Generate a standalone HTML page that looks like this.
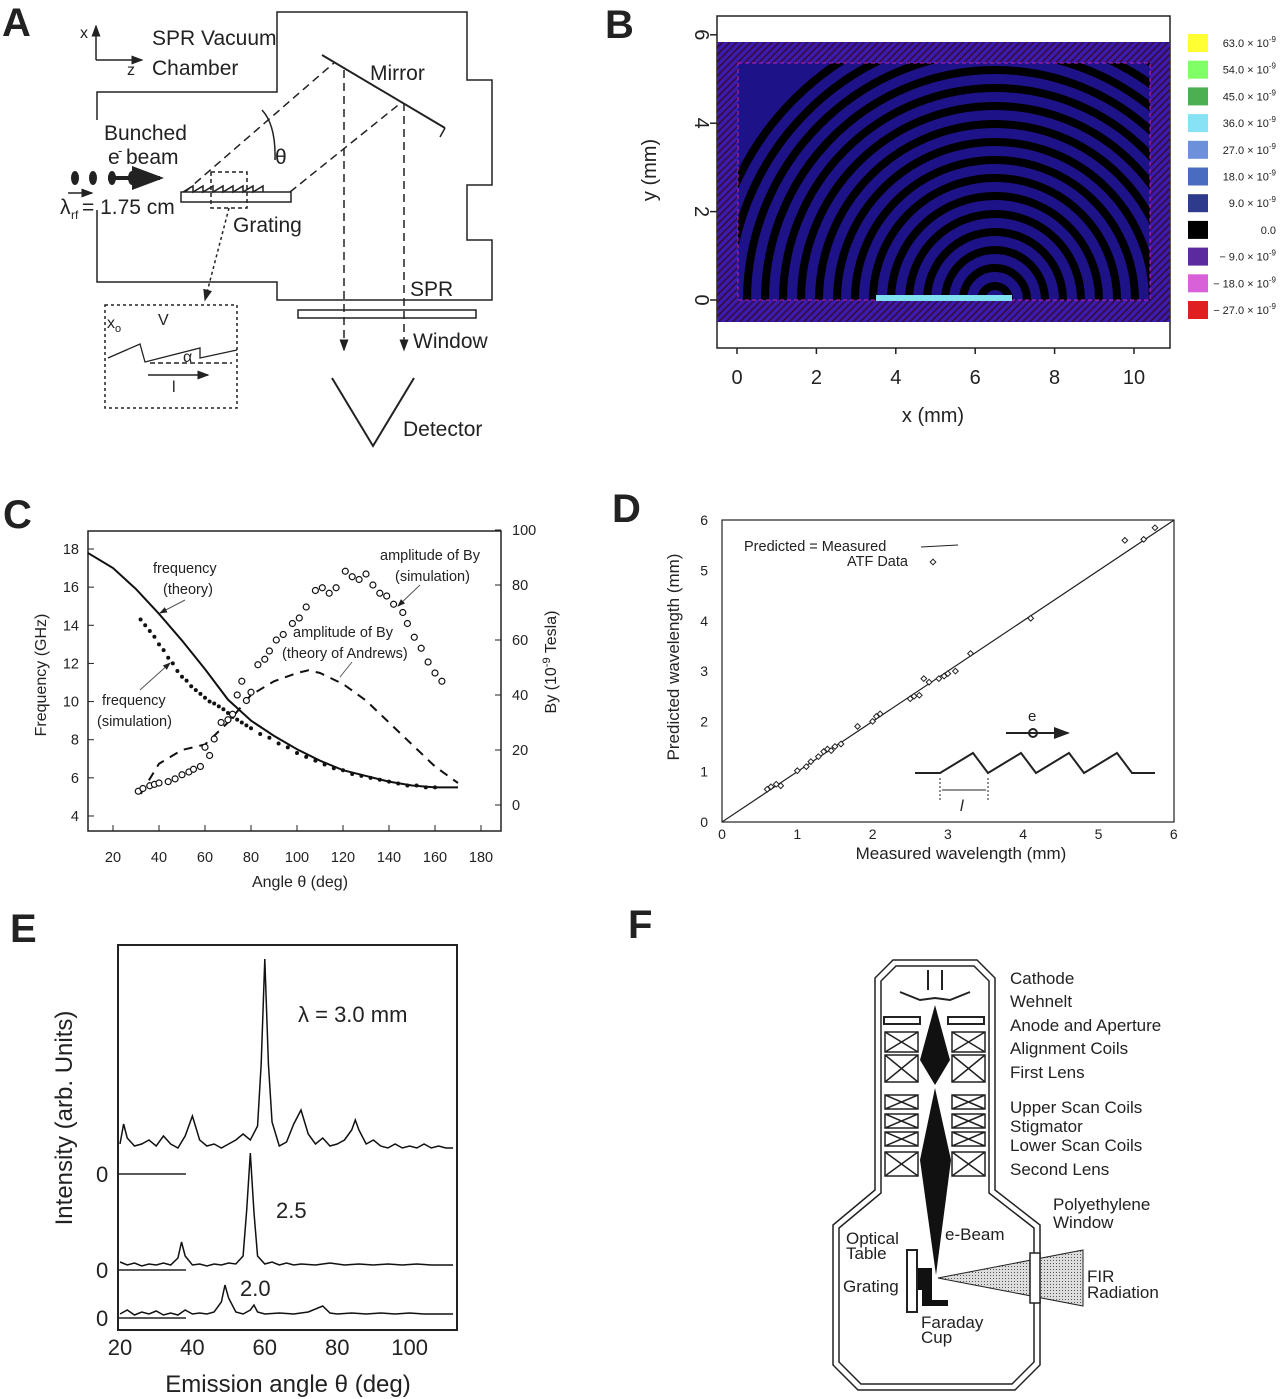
<!DOCTYPE html>
<html><head><meta charset="utf-8"><style>
body{margin:0;background:#fff}
svg{display:block}
text{font-family:"Liberation Sans",sans-serif;fill:#222}
</style></head><body>
<svg id="root" width="1280" height="1399" viewBox="0 0 1280 1399" xmlns="http://www.w3.org/2000/svg">
<defs>
<marker id="ah" markerWidth="8" markerHeight="8" refX="7" refY="4" orient="auto"><path d="M0,1 L8,4 L0,7 Z" fill="#222"/></marker>
<pattern id="hatch" width="5" height="5" patternUnits="userSpaceOnUse" patternTransform="rotate(45)"><rect width="5" height="5" fill="#3a1cb0"/><rect width="1.6" height="5" fill="#3a0a3a"/></pattern>
<pattern id="dots" width="3" height="3" patternUnits="userSpaceOnUse"><rect width="3" height="3" fill="#ddd"/><rect width="1" height="1" fill="#555"/></pattern>
<clipPath id="bclip"><rect x="738" y="63" width="412" height="237"/></clipPath>
</defs>

<!-- PANEL A -->
<g>
<text x="2" y="36" font-size="40" font-weight="bold">A</text>
<g stroke="#222" stroke-width="1.5" fill="none">
<line x1="96" y1="60" x2="96" y2="26" marker-end="url(#ah)"/>
<line x1="96" y1="60" x2="142" y2="60" marker-end="url(#ah)"/>
<polyline points="97,120 97,92 277,92 277,12 467,12 467,80 492,80 492,185 467,185 467,240 492,240 492,300 467,300"/>
<polyline points="97,210 97,282 277,282 277,300 467,300"/>
<rect x="181" y="192" width="110" height="10"/>
<polyline points="183,192 193,186 193,192 203,186 203,192 213,186 213,192 223,186 223,192 233,186 233,192 243,186 243,192 253,186 253,192 263,186 263,192"/>
<line x1="322" y1="55" x2="445" y2="128" stroke-width="2"/>
<line x1="445" y1="128" x2="440" y2="137"/>
<g stroke-dasharray="8,5">
<line x1="185" y1="192" x2="335" y2="62"/>
<line x1="290" y1="192" x2="402" y2="102"/>
<line x1="344" y1="70" x2="344" y2="350" marker-end="url(#ah)"/>
<line x1="404" y1="103" x2="404" y2="350" marker-end="url(#ah)"/>
</g>
<path d="M262,110 Q276,125 275,160"/>
<rect x="298" y="310" width="178" height="8"/>
<polyline points="332,378 373,446 414,378" stroke-width="2"/>
<rect x="211" y="172" width="36" height="36" stroke-dasharray="4,3"/>
<path d="M229,208 L205,300" stroke-dasharray="3,3" marker-end="url(#ah)"/>
<rect x="105" y="305" width="132" height="103" stroke-dasharray="3,3"/>
<polyline points="108,358 140,344 145,362 200,348 200,358 237,350" stroke-width="1.3"/>
<line x1="150" y1="363" x2="232" y2="363" stroke-dasharray="5,3"/>
<line x1="148" y1="375" x2="208" y2="375" marker-end="url(#ah)"/>
<line x1="108" y1="178" x2="160" y2="178" stroke-width="4" marker-end="url(#ah)"/>
<line x1="68" y1="193" x2="92" y2="193" marker-end="url(#ah)"/>
</g>
<g fill="#222"><ellipse cx="75" cy="178" rx="4" ry="7"/><ellipse cx="93" cy="178" rx="4" ry="7"/><ellipse cx="112" cy="178" rx="4" ry="7"/><ellipse cx="132" cy="178" rx="4" ry="7"/></g>
<g font-size="21">
<text x="80" y="38" font-size="16">x</text><text x="127" y="75" font-size="16">z</text>
<text x="152" y="45">SPR Vacuum</text>
<text x="152" y="75">Chamber</text>
<text x="370" y="80">Mirror</text>
<text x="104" y="140">Bunched</text>
<text x="108" y="164">e</text><text x="118" y="155" font-size="13">-</text><text x="126" y="164">beam</text>
<text x="60" y="214">λ</text><text x="71" y="219" font-size="12">rf</text><text x="82" y="214">= 1.75 cm</text>
<text x="275" y="164">θ</text>
<text x="233" y="232">Grating</text>
<text x="410" y="296">SPR</text>
<text x="413" y="348">Window</text>
<text x="403" y="436">Detector</text>
<text x="107" y="328" font-size="16">x<tspan font-size="11" dy="4">o</tspan></text>
<text x="158" y="325" font-size="16">V</text>
<text x="183" y="362" font-size="16">α</text>
<text x="172" y="392" font-size="16" font-family="Liberation Serif">l</text>
</g>
</g>

<!-- PANEL B -->
<g>
<text x="605" y="38" font-size="40" font-weight="bold">B</text>
<rect x="717" y="16" width="453" height="332" fill="#fff" stroke="#222" stroke-width="1.5"/>
<rect x="717" y="42" width="453" height="280" fill="url(#hatch)"/>
<rect x="738" y="63" width="412" height="237" fill="#1e1288"/>
<g id="arcs" clip-path="url(#bclip)" fill="none" stroke="#000" stroke-width="8"></g>
<rect x="738" y="63" width="412" height="237" fill="none" stroke="#c020c0" stroke-dasharray="4,3"/>
<rect x="876" y="295" width="136" height="6" fill="#7fe0f0"/>
<g id="bticks" stroke="#222" stroke-width="1.5"></g>
<text x="933" y="422" font-size="20" text-anchor="middle">x (mm)</text>
<text transform="translate(656,170) rotate(-90)" font-size="20" text-anchor="middle">y (mm)</text>
<g id="cbar"></g>
</g>

<!-- PANEL C -->
<g>
<text x="3" y="528" font-size="40" font-weight="bold">C</text>
<rect x="88" y="531" width="413" height="300" fill="none" stroke="#222" stroke-width="1.5"/>
<g id="cplot"></g>
<text x="300" y="887" font-size="16" text-anchor="middle">Angle θ (deg)</text>
<text transform="translate(46,675) rotate(-90)" font-size="16" text-anchor="middle">Frequency (GHz)</text>
<text transform="translate(556,662) rotate(-90)" font-size="16" text-anchor="middle">By (10<tspan font-size="11" dy="-6">-9</tspan><tspan dy="6"> Tesla)</tspan></text>
<g font-size="14.5">
<text x="153" y="573">frequency</text><text x="163" y="594">(theory)</text>
<text x="102" y="705">frequency</text><text x="97" y="726">(simulation)</text>
<text x="380" y="560">amplitude of By</text><text x="395" y="581">(simulation)</text>
<text x="293" y="637">amplitude of By</text><text x="282" y="658">(theory of Andrews)</text>
</g>
<g stroke="#555" stroke-width="1" fill="none">
<line x1="185" y1="600" x2="160" y2="613" marker-end="url(#ah)"/>
<line x1="140" y1="690" x2="170" y2="663" marker-end="url(#ah)"/>
<line x1="420" y1="585" x2="398" y2="606" marker-end="url(#ah)"/>
<line x1="352" y1="662" x2="340" y2="677"/>
</g>
</g>

<!-- PANEL D -->
<g>
<text x="612" y="522" font-size="40" font-weight="bold">D</text>
<rect x="722" y="520" width="452" height="302" fill="none" stroke="#222" stroke-width="1.2"/>
<g id="dplot"></g>
<text x="961" y="859" font-size="17" text-anchor="middle">Measured  wavelength (mm)</text>
<text transform="translate(679,657) rotate(-90)" font-size="17" text-anchor="middle">Predicted  wavelength (mm)</text>
<g>
<text x="744" y="551" font-size="14.5">Predicted = Measured</text>
<line x1="921" y1="547" x2="958" y2="545" stroke="#222"/>
<text x="847" y="566" font-size="14.5">ATF Data</text>
<rect x="931" y="560" width="4" height="4" transform="rotate(45 933 562)" fill="none" stroke="#222"/>
</g>
<g stroke="#222" stroke-width="2" fill="none">
<polyline points="915,773 940,773 973,753 988,773 1021,753 1036,773 1069,753 1084,773 1117,753 1132,773 1155,773"/>
<line x1="1006" y1="733" x2="1068" y2="733" marker-end="url(#ah)"/>
<circle cx="1033" cy="733" r="4"/>
<line x1="940" y1="778" x2="940" y2="800" stroke-width="1" stroke-dasharray="2,2"/>
<line x1="988" y1="778" x2="988" y2="800" stroke-width="1" stroke-dasharray="2,2"/>
<line x1="942" y1="790" x2="986" y2="790" stroke-width="1"/>
</g>
<text x="1028" y="721" font-size="15">e</text>
<text x="960" y="811" font-size="16" font-style="italic" font-family="Liberation Serif">l</text>
</g>

<!-- PANEL E -->
<g>
<text x="10" y="942" font-size="40" font-weight="bold">E</text>
<rect x="118" y="945" width="339" height="385" fill="none" stroke="#222" stroke-width="2"/>
<g id="eplot"></g>
<text x="288" y="1392" font-size="24" text-anchor="middle">Emission angle θ (deg)</text>
<text transform="translate(72,1118) rotate(-90)" font-size="24" text-anchor="middle">Intensity (arb. Units)</text>
<text x="298" y="1022" font-size="22">λ = 3.0 mm</text>
<text x="276" y="1218" font-size="22">2.5</text>
<text x="240" y="1296" font-size="22">2.0</text>
</g>

<!-- PANEL F -->
<g>
<text x="628" y="938" font-size="40" font-weight="bold">F</text>
<g fill="none" stroke="#222" stroke-width="1.5">
<path d="M893,960 L977,960 L995,978 L995,1190 L1040,1225 L1040,1365 L1015,1390 L858,1390 L833,1365 L833,1225 L875,1190 L875,978 Z"/>
<path d="M896,966 L974,966 L989,981 L989,1193 L1034,1228 L1034,1362 L1012,1384 L861,1384 L839,1362 L839,1228 L881,1193 L881,981 Z"/>
</g>
<g id="coils" fill="none" stroke="#222" stroke-width="1.5"></g>
<g fill="#111">
<polygon points="935,1005 950,1060 935,1085 920,1060"/>
<polygon points="935,1088 951,1160 936,1275 920,1160"/>
<rect x="918" y="1268" width="14" height="22"/>
<polygon points="922,1290 932,1290 932,1300 948,1300 948,1306 922,1306"/>
</g>
<g stroke="#222" stroke-width="2" fill="none">
<path d="M928,970 L928,990 M942,970 L942,990 M900,992 L920,1000 L935,998 L950,1000 L970,992"/>
<rect x="884" y="1017" width="36" height="7"/><rect x="948" y="1017" width="36" height="7"/>
<rect x="907" y="1250" width="10" height="62"/>
</g>
<polygon points="938,1278 1083,1250 1083,1306" fill="url(#dots)" stroke="#222"/>
<rect x="1030" y="1253" width="10" height="50" fill="#fff" stroke="#222" stroke-width="1.5"/>
<g font-size="17">
<text x="1010" y="984">Cathode</text><text x="1010" y="1007">Wehnelt</text>
<text x="1010" y="1031">Anode and Aperture</text><text x="1010" y="1054">Alignment Coils</text>
<text x="1010" y="1078">First Lens</text><text x="1010" y="1113">Upper Scan Coils</text>
<text x="1010" y="1132">Stigmator</text><text x="1010" y="1151">Lower Scan Coils</text>
<text x="1010" y="1175">Second Lens</text>
<text x="1053" y="1210">Polyethylene</text><text x="1053" y="1228">Window</text>
<text x="945" y="1240">e-Beam</text>
<text x="846" y="1244">Optical</text><text x="846" y="1259">Table</text>
<text x="843" y="1292">Grating</text>
<text x="1087" y="1282">FIR</text><text x="1087" y="1298">Radiation</text>
<text x="921" y="1328">Faraday</text><text x="921" y="1343">Cup</text>
</g>
</g>
</svg>
<script>
const NS='http://www.w3.org/2000/svg';
function mk(parent,tag,attrs,txt){const e=document.createElementNS(NS,tag);for(const k in attrs)e.setAttribute(k,attrs[k]);if(txt!==undefined)e.textContent=txt;parent.appendChild(e);return e;}

// ---------- Panel B ----------
const bXTicks=[0,2,4,6,8,10];
const bYTicks=[0,2,4,6];
const bArcRadii=[14,32,50,68,86,104,122,140,158,176,194,212,230,248,266,284];
const cbarValues=['63.0','54.0','45.0','36.0','27.0','18.0','9.0','0.0','− 9.0','− 18.0','− 27.0'];
const cbarColors=['#ffff33','#80ff66','#4caf50','#88e2f6','#6c90da','#4a6cc0','#2e3a8c','#000000','#5b2a9e','#d860d8','#e02020'];
const bx=v=>737+v*39.7, by=v=>300-v*44.2;
const arcs=document.getElementById('arcs');
bArcRadii.forEach(r=>{const c=mk(arcs,'circle',{cx:995,cy:300,r:r});

});
const bt=document.getElementById('bticks');
bXTicks.forEach(v=>{const l=mk(bt,'line',{x1:bx(v),x2:bx(v),y1:348,y2:354});


const t=mk(bt,'text',{x:bx(v),y:384,'font-size':20,'text-anchor':'middle',stroke:'none'},v);

});
bYTicks.forEach(v=>{const l=mk(bt,'line',{x1:710,x2:717,y1:by(v),y2:by(v)});


const t=mk(bt,'text',{transform:`translate(695,${by(v)}) rotate(90)`,'font-size':20,'text-anchor':'middle',stroke:'none'},v);

});
const cb=document.getElementById('cbar');
cbarValues.forEach((v,i)=>{const y=34+i*26.7;
const r=mk(cb,'rect',{x:1188,y:y,width:20,height:18,fill:cbarColors[i]});


const t=mk(cb,'text',{x:1276,y:y+13,'font-size':11,'text-anchor':'end'},v==='0.0'?'0.0':v+' × 10');


if(v!=='0.0'){mk(t,'tspan',{dy:-5,'font-size':8},'-9');}
});

// ---------- Panel C ----------
const cXTicks=[20,40,60,80,100,120,140,160,180];
const cYTicks=[4,6,8,10,12,14,16,18];
const cY2Ticks=[0,20,40,60,80,100];
const theoryAngle=[9,20,30,40,50,60,70,80,90,100,110,120,130,140,150,160,170];
const theoryFreq=[17.8,17.0,15.9,14.6,13.2,11.7,10.1,9.0,8.2,7.5,6.9,6.4,6.1,5.8,5.6,5.5,5.5];
const simAngle=[32,34,36,38,40,42,44,46,48,50,52,54,56,58,60,62,64,66,68,70,72,74,76,78,80,84,88,92,96,100,104,108,112,116,120,124,128,132,136,140,144,148,152,156,160];
const simFreq=[14.3,14.0,13.7,13.4,13.0,12.7,12.3,12.0,11.6,11.3,11.1,10.8,10.6,10.4,10.2,10.0,9.9,9.75,9.6,9.4,9.2,9.05,8.9,8.75,8.6,8.3,8.1,7.8,7.6,7.3,7.1,6.9,6.7,6.5,6.4,6.2,6.1,6.0,5.9,5.8,5.7,5.6,5.6,5.5,5.5];
const bySimAngle=[31,33,36,38,40,44,47,50,53,55,58,60,62,64,67,70,72,74,76,78,80,83,86,88,91,94,98,101,104,108,111,114,117,121,124,127,130,133,136,139,142,146,148,151,154,157,160,163];
const bySimVal=[5,6,7,7.5,8,8.5,9.5,11,12,13,14,21,18,24,30,31,33,40,45,38,41,51,53,56,60,62,66,68,72,78,79,77,79,85,83,82,84,80,77,76,73,70,66,61,57,52,48,45];
const byThAngle=[32,40,50,60,70,80,90,100,105,110,120,130,140,150,160,170];
const byThVal=[4,15,20,22,30,40,45,48,49,48,44,38,30,22,14,8];
const cx=a=>113+(a-20)*2.3, cy=f=>549+(18-f)*19.07, cy2=v=>805-v*2.75;
const cp=document.getElementById('cplot');
cXTicks.forEach(v=>{const l=mk(cp,'line',{x1:cx(v),x2:cx(v),y1:831,y2:825,stroke:'#222'});


const t=mk(cp,'text',{x:cx(v),y:862,'font-size':14.5,'text-anchor':'middle'},v);

});
cYTicks.forEach(v=>{const l=mk(cp,'line',{x1:88,x2:94,y1:cy(v),y2:cy(v),stroke:'#222'});


const t=mk(cp,'text',{x:79,y:cy(v)+5,'font-size':14.5,'text-anchor':'end'},v);

});
cY2Ticks.forEach(v=>{const l=mk(cp,'line',{x1:495,x2:501,y1:cy2(v),y2:cy2(v),stroke:'#222'});


const t=mk(cp,'text',{x:512,y:cy2(v)+5,'font-size':14.5},v);

});
const thLine=mk(cp,'polyline',{points:theoryAngle.map((a,i)=>cx(a)+','+cy(theoryFreq[i])).join(' '),fill:'none',stroke:'#111','stroke-width':2});


const andLine=mk(cp,'polyline',{points:byThAngle.map((a,i)=>cx(a)+','+cy2(byThVal[i])).join(' '),fill:'none',stroke:'#111','stroke-width':2,'stroke-dasharray':'9,7'});


simAngle.forEach((a,i)=>{const d=mk(cp,'circle',{cx:cx(a),cy:cy(simFreq[i]),r:2,fill:'#111'});

});
bySimAngle.forEach((a,i)=>{const d=mk(cp,'circle',{cx:cx(a),cy:cy2(bySimVal[i]),r:3,fill:'#fff',stroke:'#111','stroke-width':1.2});

});

// ---------- Panel D ----------
const dTicks=[0,1,2,3,4,5,6];
const dMeasured=[0.6,0.65,0.72,0.78,1.0,1.12,1.18,1.28,1.35,1.4,1.45,1.5,1.58,1.8,2.0,2.05,2.1,2.5,2.55,2.62,2.68,2.75,2.88,2.95,3.0,3.1,3.3,4.1,5.35,5.6,5.75];
const dPredicted=[0.65,0.7,0.75,0.72,1.02,1.1,1.2,1.3,1.4,1.45,1.42,1.5,1.55,1.9,2.0,2.1,2.15,2.45,2.5,2.52,2.85,2.78,2.85,2.9,2.95,3.0,3.35,4.05,5.6,5.62,5.85];
const dx=v=>722+v*75.3, dy=v=>822-v*50.3;
const dp=document.getElementById('dplot');
dTicks.forEach(v=>{const t=mk(dp,'text',{x:dx(v),y:839,'font-size':14,'text-anchor':'middle'},v);


const t2=mk(dp,'text',{x:708,y:dy(v)+5,'font-size':14,'text-anchor':'end'},v);

});
const fit=mk(dp,'line',{x1:dx(0),y1:dy(0),x2:dx(6),y2:dy(6),stroke:'#222','stroke-width':1.2});


dMeasured.forEach((m,i)=>{const x=dx(m),y=dy(dPredicted[i]);
const p=mk(dp,'rect',{x:x-2,y:y-2,width:4,height:4,fill:'#fff',stroke:'#222','stroke-width':1,transform:`rotate(45 ${x} ${y})`});

});

// ---------- Panel E ----------
const eXTicks=[20,40,60,80,100];
const e1Angle=[20,21,22,24,26,28,30,32,34,36,38,40,42,44,46,48,50,52,54,56,58,59,60,61,62,64,66,68,70,72,74,76,78,80,82,84,85,86,88,90,92,94,96,98,100,102,104,106,108,110,112];
const e1Val=[30,50,36,28,30,34,28,38,30,26,38,58,34,28,30,26,30,34,40,34,48,110,215,110,52,28,32,50,64,40,30,36,28,30,34,44,54,44,30,34,28,26,30,26,28,26,30,26,28,26,26];
const e2Angle=[20,22,24,26,28,30,32,34,36,37,38,40,42,44,46,48,50,52,54,55,56,57,58,60,62,64,66,68,70,74,78,82,86,90,94,98,102,106,110,112];
const e2Val=[8,5,7,4,6,5,7,5,12,28,14,5,6,4,6,5,7,6,14,60,117,58,14,6,8,5,7,5,6,5,7,5,6,5,6,5,6,5,5,5];
const e3Angle=[20,22,24,26,28,30,32,34,36,38,40,42,44,46,48,49,50,52,54,56,57,58,60,64,68,72,76,78,80,84,88,92,96,100,104,108,112];
const e3Val=[4,8,3,6,4,7,3,5,3,8,4,5,4,6,16,33,20,6,4,8,13,6,4,5,4,6,12,5,4,5,4,5,4,5,4,4,4];
const eZeros=[1174,1270,1318];
const ex=a=>120+(a-20)*3.62, ey=(z,v)=>z-v;
const ep=document.getElementById('eplot');
eXTicks.forEach(v=>{const t=mk(ep,'text',{x:ex(v),y:1355,'font-size':22,'text-anchor':'middle'},v);

});
[[e1Angle,e1Val],[e2Angle,e2Val],[e3Angle,e3Val]].forEach((s,k)=>{const z=eZeros[k];
const zl=mk(ep,'line',{x1:118,x2:186,y1:z,y2:z,stroke:'#222','stroke-width':1.5});


const zt=mk(ep,'text',{x:96,y:z+8,'font-size':22},'0');


const pl=mk(ep,'polyline',{points:s[0].map((a,i)=>ex(a)+','+ey(z,s[1][i])).join(' '),fill:'none',stroke:'#111','stroke-width':1.5});

});

// ---------- Panel F coils ----------
const coilRows=[[1032,20],[1055,27],[1095,14],[1114,14],[1132,14],[1152,24]];
const co=document.getElementById('coils');
coilRows.forEach(r=>{[885,952].forEach(x=>{const g=mk(co,'path',{d:`M${x},${r[0]} h33 v${r[1]} h-33 Z M${x},${r[0]} l33,${r[1]} M${x+33},${r[0]} l-33,${r[1]}`});

});});
</script>
</body></html>
